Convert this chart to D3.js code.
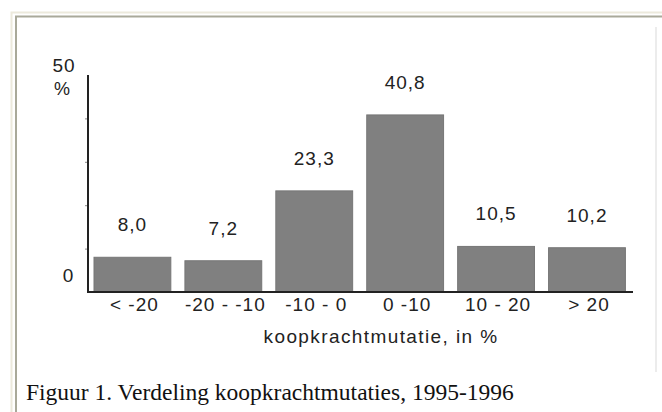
<!DOCTYPE html>
<html lang="nl">
<head>
  <meta charset="UTF-8">
  <title>Verdeling koopkrachtmutaties</title>
  <script src="https://d3js.org/d3.v7.min.js"></script>
  <style>
    body { margin: 0; background: #fff; }
    svg { display: block; }
    text { font-family: "Liberation Sans", Arial, sans-serif; fill: #222; }
    .caption { font-family: "Liberation Serif", "Times New Roman", serif; fill: #111; }
  </style>
</head>
<body>
  <div id="chart"></div>
  <script>
    // Data
    const categories = ["< -20", "-20 - -10", "-10 - 0", "0 -10", "10 - 20", "> 20"];
    const values = [8.0, 7.2, 23.3, 40.8, 10.5, 10.2];
    const valueLabels = ["8,0", "7,2", "23,3", "40,8", "10,5", "10,2"];
    const yTicks = [0, 10, 20, 30, 40, 50];

    const W = 662, H = 412;

    const svg = d3.select("#chart").append("svg")
      .attr("width", W)
      .attr("height", H);

    // Frame: light outer line, darker inner line, faint right line
    svg.append("rect")
      .attr("x", 11.5).attr("y", 12.5)
      .attr("width", W + 10).attr("height", H + 10)
      .attr("fill", "none").attr("stroke", "#ece9dc").attr("stroke-width", 2);
    svg.append("rect")
      .attr("x", 16).attr("y", 16.5)
      .attr("width", W + 10).attr("height", H + 10)
      .attr("fill", "none").attr("stroke", "#a9a99a").attr("stroke-width", 2);
    svg.append("line")
      .attr("x1", 656).attr("x2", 656).attr("y1", 27).attr("y2", 372)
      .attr("stroke", "#ececec").attr("stroke-width", 2);

    // Scales
    const x = d3.scaleBand()
      .domain(categories)
      .range([94, 625.4])
      .paddingInner(0.155)
      .paddingOuter(0);

    const y = d3.scaleLinear()
      .domain([0, 50])
      .range([292, 75]);

    const axisX = 88;

    // Bars
    svg.selectAll(".bar")
      .data(values)
      .enter().append("rect")
        .attr("class", "bar")
        .attr("x", (d, i) => x(categories[i]))
        .attr("y", d => y(d))
        .attr("width", x.bandwidth())
        .attr("height", d => y(0) - y(d))
        .attr("fill", "#808080")
        .attr("stroke", "#767676")
        .attr("stroke-width", 1);

    // Value labels
    svg.selectAll(".value")
      .data(values)
      .enter().append("text")
        .attr("class", "value")
        .attr("x", (d, i) => x(categories[i]) + x.bandwidth() / 2)
        .attr("y", d => y(d) - 26)
        .attr("text-anchor", "middle")
        .attr("font-size", 19)
        .attr("letter-spacing", 1)
        .text((d, i) => valueLabels[i]);

    // Y axis with small ticks at the left
    const yAxis = d3.axisLeft(y)
      .tickValues(yTicks.slice(1, -1))
      .tickSize(3)
      .tickFormat("");
    const gy = svg.append("g")
      .attr("transform", `translate(${axisX},0)`)
      .call(yAxis);
    gy.select(".domain").remove();
    gy.selectAll(".tick line").attr("stroke", "#888");

    svg.append("line")
      .attr("x1", axisX).attr("x2", axisX)
      .attr("y1", y(50)).attr("y2", y(0))
      .attr("stroke", "#222").attr("stroke-width", 2);

    // Y labels
    svg.append("text")
      .attr("x", 64).attr("y", 72)
      .attr("text-anchor", "middle")
      .attr("font-size", 19)
      .attr("letter-spacing", 1)
      .text(yTicks[yTicks.length - 1]);
    svg.append("text")
      .attr("x", 62).attr("y", 95)
      .attr("text-anchor", "middle")
      .attr("font-size", 18)
      .text("%");
    svg.append("text")
      .attr("x", 68).attr("y", 282)
      .attr("text-anchor", "middle")
      .attr("font-size", 19)
      .text(yTicks[0]);

    // X axis
    svg.append("line")
      .attr("x1", axisX - 1).attr("x2", 633)
      .attr("y1", y(0)).attr("y2", y(0))
      .attr("stroke", "#222").attr("stroke-width", 2);

    svg.selectAll(".xlabel")
      .data(categories)
      .enter().append("text")
        .attr("class", "xlabel")
        .attr("x", d => x(d) + x.bandwidth() / 2 + 2)
        .attr("y", 311)
        .attr("text-anchor", "middle")
        .attr("font-size", 19)
        .attr("letter-spacing", 1)
        .text(d => d);

    svg.append("text")
      .attr("x", 381).attr("y", 343)
      .attr("text-anchor", "middle")
      .attr("font-size", 19)
      .attr("letter-spacing", 1.4)
      .text("koopkrachtmutatie, in %");

    // Caption
    svg.append("text")
      .attr("class", "caption")
      .attr("x", 26).attr("y", 400)
      .attr("font-size", 23.5)
      .text("Figuur 1. Verdeling koopkrachtmutaties, 1995-1996");
  </script>
</body>
</html>
